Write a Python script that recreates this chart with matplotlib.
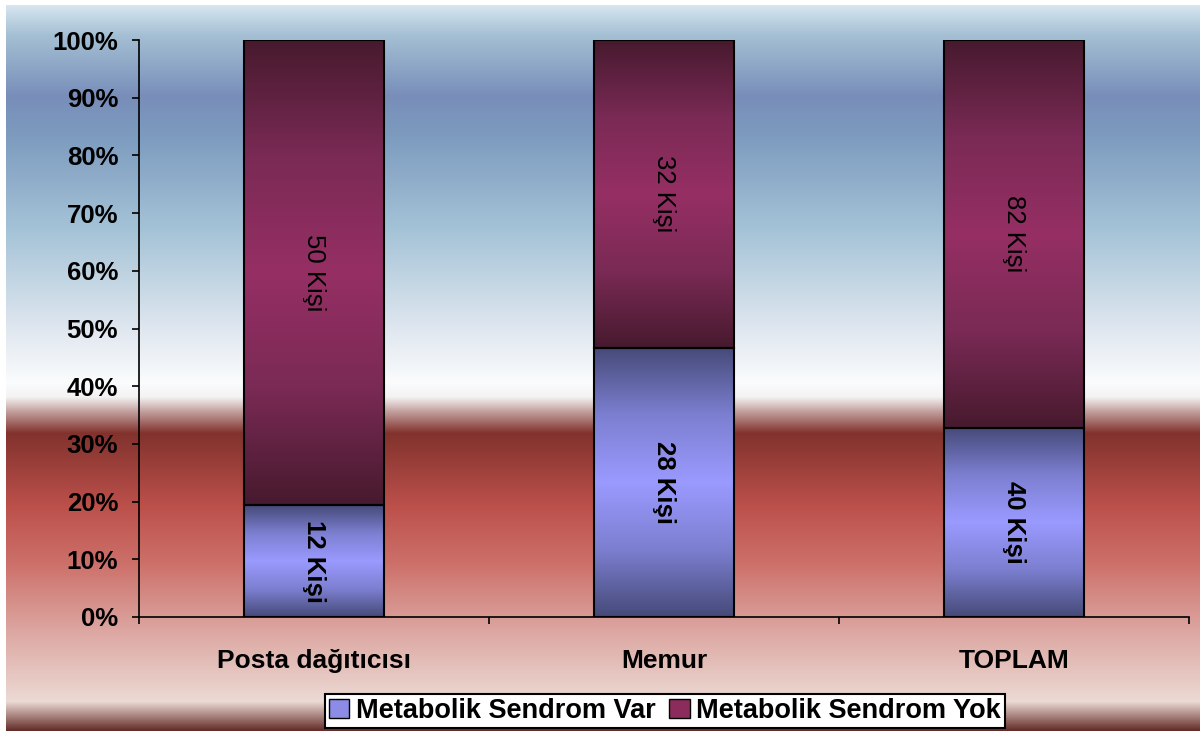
import matplotlib

matplotlib.use("Agg")

import matplotlib.pyplot as plt
import numpy as np
from matplotlib.colors import LinearSegmentedColormap
from matplotlib.patches import Patch

plt.rcParams["font.family"] = ["Liberation Sans", "DejaVu Sans"]

categories = ["Posta dağıtıcısı", "Memur", "TOPLAM"]
var_counts = [12, 28, 40]
yok_counts = [50, 32, 82]
series_names = ["Metabolik Sendrom Var", "Metabolik Sendrom Yok"]

var_counts = np.array(var_counts, dtype=float)
yok_counts = np.array(yok_counts, dtype=float)
total = var_counts + yok_counts
var_pct = var_counts / total * 100
yok_pct = yok_counts / total * 100

# background gradient stops (fraction from top, rgb)
bg_stops = [
    (0.000, (215, 230, 240)),
    (0.040, (165, 192, 212)),
    (0.125, (120, 142, 185)),
    (0.180, (125, 155, 190)),
    (0.310, (165, 195, 215)),
    (0.450, (225, 232, 240)),
    (0.520, (250, 252, 253)),
    (0.540, (244, 243, 243)),
    (0.560, (195, 160, 158)),
    (0.590, (130, 50, 45)),
    (0.690, (188, 80, 75)),
    (0.770, (205, 112, 106)),
    (0.860, (220, 165, 160)),
    (0.960, (236, 218, 212)),
    (1.000, (100, 45, 40)),
]


def vertical_gradient(stops, n=731):
    pos = np.array([s[0] for s in stops])
    cols = np.array([s[1] for s in stops], dtype=float) / 255
    t = np.linspace(0, 1, n)
    img = np.stack([np.interp(t, pos, cols[:, k]) for k in range(3)], axis=1)
    return img[:, None, :]


blue_cmap = LinearSegmentedColormap.from_list(
    "blue", ["#464a78", "#7c7fd0", "#9a9aff", "#7c7fd0", "#464a78"])
maroon_cmap = LinearSegmentedColormap.from_list(
    "maroon", ["#471a2e", "#7a2a55", "#962f64", "#7a2a55", "#471a2e"])

fig = plt.figure(figsize=(12, 7.31), dpi=100)
fig.patch.set_facecolor("white")

bg = fig.add_axes([6 / 1200, 0, 1 - 6 / 1200, 1 - 5 / 731], zorder=-10)
bg.imshow(vertical_gradient(bg_stops), aspect="auto", extent=(0, 1, 0, 1))
bg.set_axis_off()

ax = fig.add_axes([139 / 1200, 1 - 617 / 731, 1050 / 1200, 577 / 731])
ax.patch.set_alpha(0)

x = np.arange(len(categories))
width = 0.4
bars_var = ax.bar(x, var_pct, width, facecolor="none", edgecolor="black", linewidth=1.5, zorder=3)
bars_yok = ax.bar(x, yok_pct, width, bottom=var_pct, facecolor="none", edgecolor="black",
                  linewidth=1.5, zorder=3)

grad = np.linspace(0, 1, 256)[:, None]
for bars, cmap in [(bars_var, blue_cmap), (bars_yok, maroon_cmap)]:
    for b in bars:
        x0, y0 = b.get_x(), b.get_y()
        im = ax.imshow(grad, cmap=cmap, aspect="auto", zorder=2,
                       extent=(x0, x0 + b.get_width(), y0, y0 + b.get_height()))
        im.set_clip_path(b)

for i in range(len(categories)):
    ax.text(x[i], var_pct[i] / 2, f"{int(var_counts[i])} Kişi", rotation=-90,
            ha="center", va="center", fontsize=18.5, fontweight="bold", zorder=4)
    ax.text(x[i], var_pct[i] + yok_pct[i] / 2, f"{int(yok_counts[i])} Kişi", rotation=-90,
            ha="center", va="center", fontsize=18.5, zorder=4)

ax.set_xlim(-0.5, len(categories) - 0.5)
ax.set_ylim(0, 100)
ax.set_yticks(np.arange(0, 101, 10))
ax.set_yticklabels([f"{v}%" for v in range(0, 101, 10)], fontsize=18.5, fontweight="bold")
ax.set_xticks(x)
ax.set_xticklabels(categories, fontsize=19, fontweight="bold")
ax.set_xticks(np.arange(-0.5, len(categories)), minor=True)
ax.tick_params(axis="x", which="major", length=0, pad=23)
ax.tick_params(axis="x", which="minor", length=5, width=1.2, direction="out")
ax.tick_params(axis="y", length=5, width=1.2, pad=10)
for side in ["top", "right"]:
    ax.spines[side].set_visible(False)
for side in ["left", "bottom"]:
    ax.spines[side].set_linewidth(1.2)

handles = [Patch(facecolor="#8c8ce6", edgecolor="black"),
           Patch(facecolor="#8c2c5c", edgecolor="black")]
leg = fig.legend(handles, series_names, loc="center", bbox_to_anchor=(665 / 1200, 1 - 711 / 731),
                 ncol=2, fancybox=False, framealpha=1, edgecolor="black",
                 prop={"size": 19.5, "weight": "bold"}, handlelength=0.75, handleheight=0.75,
                 handletextpad=0.25, columnspacing=0.5, borderpad=0.15, borderaxespad=0)
leg.get_frame().set_linewidth(1.5)

fig.savefig("out.png", dpi=100)
